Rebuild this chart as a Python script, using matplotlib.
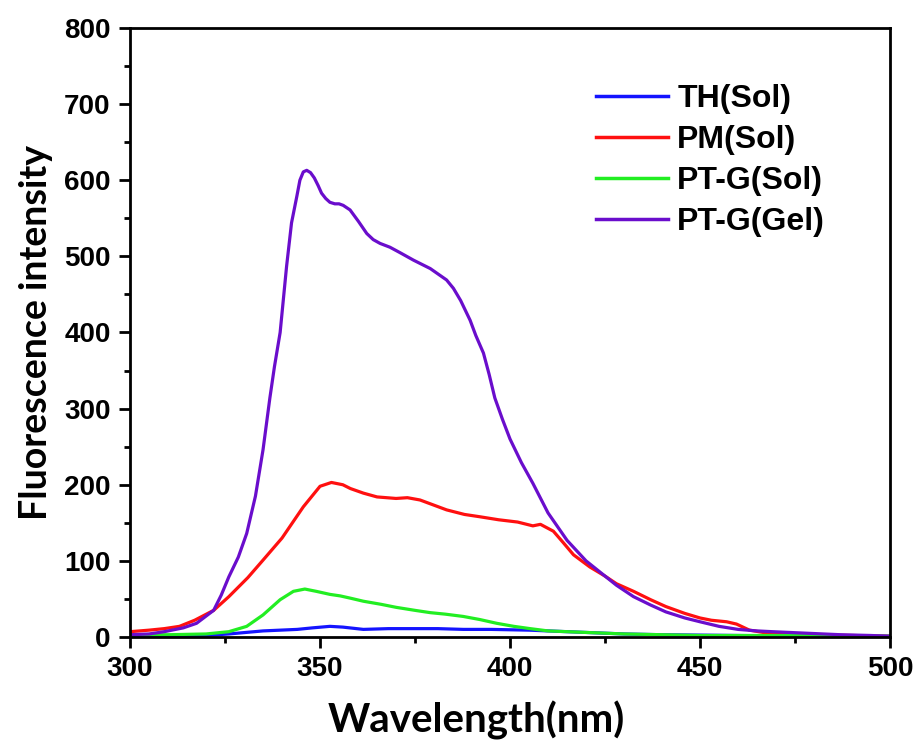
import matplotlib
matplotlib.use("Agg")
import matplotlib.pyplot as plt
from matplotlib.ticker import MultipleLocator

# =====================================================
# Data
# =====================================================

wl_th = [300, 310, 320, 326, 335, 344, 348, 352.6, 356, 361.4, 368, 374.6, 381,
         387.7, 395, 405, 410, 420, 430, 440, 460, 480, 500]
th_sol = [1, 1, 2, 4, 8, 10, 12, 14, 13, 10, 11, 11, 11,
          10, 10, 9, 8, 6, 4, 3, 2, 1, 1]

wl_pm = [300, 305, 309, 313, 317, 322, 326, 331, 335, 340, 345.6, 350, 353, 356,
         358, 361.4, 365, 370, 373, 376.3, 379, 383.3, 388, 392, 397, 402, 406,
         408, 411.4, 414, 416.7, 421, 425, 428, 432.5, 437, 441, 446, 450, 453,
         457, 459.6, 463, 466.6, 470, 480, 490, 500]
pm_sol = [7, 9, 11, 14, 22, 35, 53, 78, 101, 130, 171, 198, 203, 200,
          195, 189, 184, 182, 183, 180, 175, 167, 161, 158, 154, 151, 146,
          148, 139, 124, 108, 92, 80, 70, 60, 49, 40, 31, 25, 22,
          20, 17, 9, 6, 5, 3, 2, 1]

wl_ptg = [300, 310, 320, 326, 330.7, 335, 339.5, 343, 346, 349, 352.6, 355.3,
          358, 361.4, 366, 370, 375, 379, 383, 387.7, 392, 396.5, 401, 405.3,
          410, 415, 420, 430, 440, 450, 470, 500]
ptg_sol = [3, 3, 4, 7, 14, 29, 49, 60, 63, 60, 56, 54,
           51, 47, 43, 39, 35, 32, 30, 27, 23, 18, 14, 11,
           8, 7, 6, 4, 3, 2, 2, 1]

wl_gel = [300, 305, 309, 314, 317.5, 322, 324, 326, 328.5, 330.7, 333, 335, 336.8,
          338, 339.5, 341.2, 342.5, 343.9, 344.7, 345.6, 346.5, 347.5, 348.5,
          349.5, 350.4, 351.5, 352.6, 353.9, 355, 356.1, 357.9, 360.1, 362.3, 364,
          365.8, 368.4, 371, 374.6, 379, 383.3, 385.1, 387, 389.5, 391, 393,
          394.5, 396, 398, 400, 403, 406, 410, 415, 420, 424, 428, 432.5, 437,
          441, 446, 450, 455, 460, 465, 469, 478, 487, 495, 500]
ptg_gel = [3, 4, 7, 12, 18, 35, 55, 79, 105, 136, 185, 246, 314,
           355, 400, 487, 544, 579, 600, 611, 613, 610, 603,
           593, 583, 576, 571, 569, 569, 567, 561, 546, 530, 522,
           517, 512, 505, 495, 484, 469, 458, 442, 416, 396, 373,
           345, 314, 286, 260, 229, 202, 163, 127, 100, 84, 68, 53, 42,
           33, 25, 20, 14, 10, 8, 7, 5, 3, 2, 1]

labels = ["TH(Sol)", "PM(Sol)", "PT-G(Sol)", "PT-G(Gel)"]
colors = ["#1414ff", "#ff1010", "#22ee22", "#6a0dcc"]

# =====================================================
# Plot
# =====================================================

fig = plt.figure(figsize=(9.17, 7.42), dpi=100)
ax = fig.add_axes([0.1418, 0.1415, 0.8288, 0.8208])

series = [(wl_th, th_sol), (wl_pm, pm_sol), (wl_ptg, ptg_sol), (wl_gel, ptg_gel)]
for (x, y), lab, col in zip(series, labels, colors):
    ax.plot(x, y, color=col, lw=2.3, label=lab, solid_joinstyle="round")

ax.set_xlim(300, 500)
ax.set_ylim(0, 800)
ax.xaxis.set_major_locator(MultipleLocator(50))
ax.xaxis.set_minor_locator(MultipleLocator(25))
ax.yaxis.set_major_locator(MultipleLocator(100))
ax.yaxis.set_minor_locator(MultipleLocator(50))

for s in ax.spines.values():
    s.set_linewidth(2)
ax.tick_params(which="major", direction="out", length=8, width=2, pad=6)
ax.tick_params(which="minor", direction="out", length=4, width=2)

for lbl in ax.get_xticklabels() + ax.get_yticklabels():
    lbl.set_fontfamily(["Liberation Sans", "DejaVu Sans"])
    lbl.set_fontweight("bold")
    lbl.set_fontsize(20)

ax.set_xlabel("Wavelength(nm)", family=["Lato", "DejaVu Sans"], weight="bold",
              size=29)
ax.xaxis.set_label_coords(0.455, -0.105)
ax.set_ylabel("Fluorescence intensity", family=["Lato", "DejaVu Sans"], weight="bold",
              size=27, labelpad=8)

leg = ax.legend(loc="upper left", bbox_to_anchor=(0.575, 0.955), frameon=False,
                prop=dict(family=["Liberation Sans", "DejaVu Sans"], weight="bold", size=23),
                handlelength=2.25, handletextpad=0.3, labelspacing=0.34)
for h in leg.get_lines():
    h.set_linewidth(2.5)

fig.savefig("out.png", dpi=100)
